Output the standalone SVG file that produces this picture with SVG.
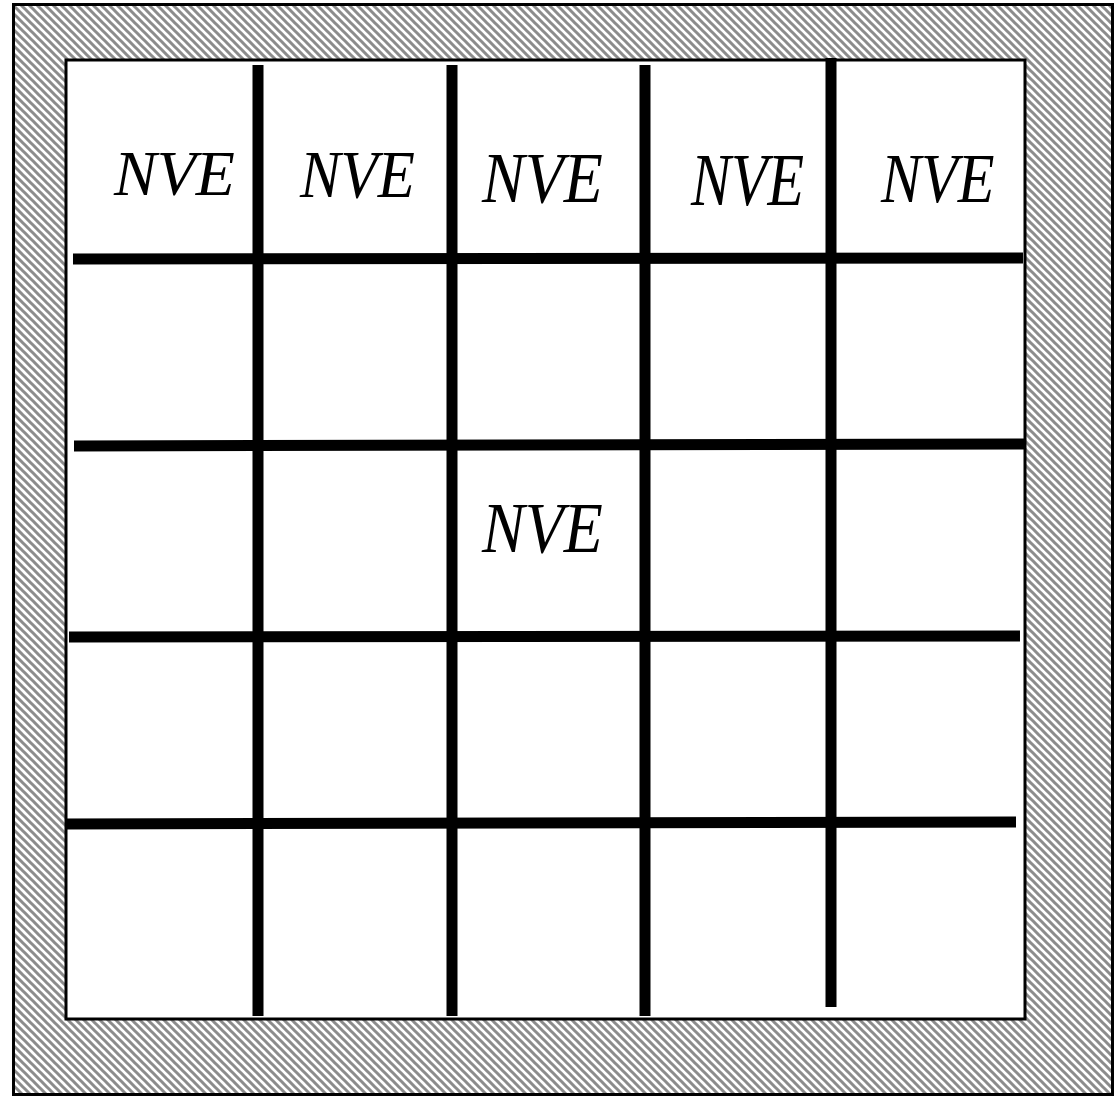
<svg xmlns="http://www.w3.org/2000/svg" width="1118" height="1097" viewBox="0 0 1118 1097">
<defs>
<pattern id="hatch" patternUnits="userSpaceOnUse" width="8" height="8">
<rect width="8" height="8" fill="#ffffff"/>
<path d="M-4,4 L4,12 M0,0 L8,8 M4,-4 L12,4" stroke="#8c8c8c" stroke-width="3"/>
</pattern>
</defs>
<style>
.wall{stroke:#000;stroke-width:11;stroke-linecap:butt;fill:none}
.lbl{font-family:"Liberation Serif","Times New Roman",serif;font-style:italic;font-size:64px;fill:#000}
</style>
<rect x="13.5" y="4.5" width="1099" height="1090" fill="url(#hatch)" stroke="#000" stroke-width="3"/>
<rect x="66" y="60" width="959" height="959" fill="#fff" stroke="#000" stroke-width="3"/>
<g id="connectors">
<line class="wall" x1="258" y1="65" x2="258" y2="1016"/>
<line class="wall" x1="452" y1="65" x2="452" y2="1016"/>
<line class="wall" x1="645" y1="65" x2="645" y2="1016"/>
<line class="wall" x1="831" y1="58" x2="831" y2="1007"/>
<line class="wall" x1="73" y1="259" x2="1023" y2="258"/>
<line class="wall" x1="74" y1="446" x2="1024" y2="444"/>
<line class="wall" x1="69" y1="637" x2="1020" y2="636"/>
<line class="wall" x1="65" y1="824" x2="1016" y2="822"/>
</g>
<g id="n1"><text class="lbl" transform="translate(114,195)">NVE</text></g>
<g id="n2"><text class="lbl" transform="translate(300,197) scale(0.95,1.06)">NVE</text></g>
<g id="n3"><text class="lbl" transform="translate(482,202) scale(1,1.12)">NVE</text></g>
<g id="n4"><text class="lbl" transform="translate(691,205) scale(0.935,1.17)">NVE</text></g>
<g id="n5"><text class="lbl" transform="translate(881,202) scale(0.94,1.08)">NVE</text></g>
<g id="n6"><text class="lbl" transform="translate(482,552) scale(1,1.12)">NVE</text></g>
</svg>
